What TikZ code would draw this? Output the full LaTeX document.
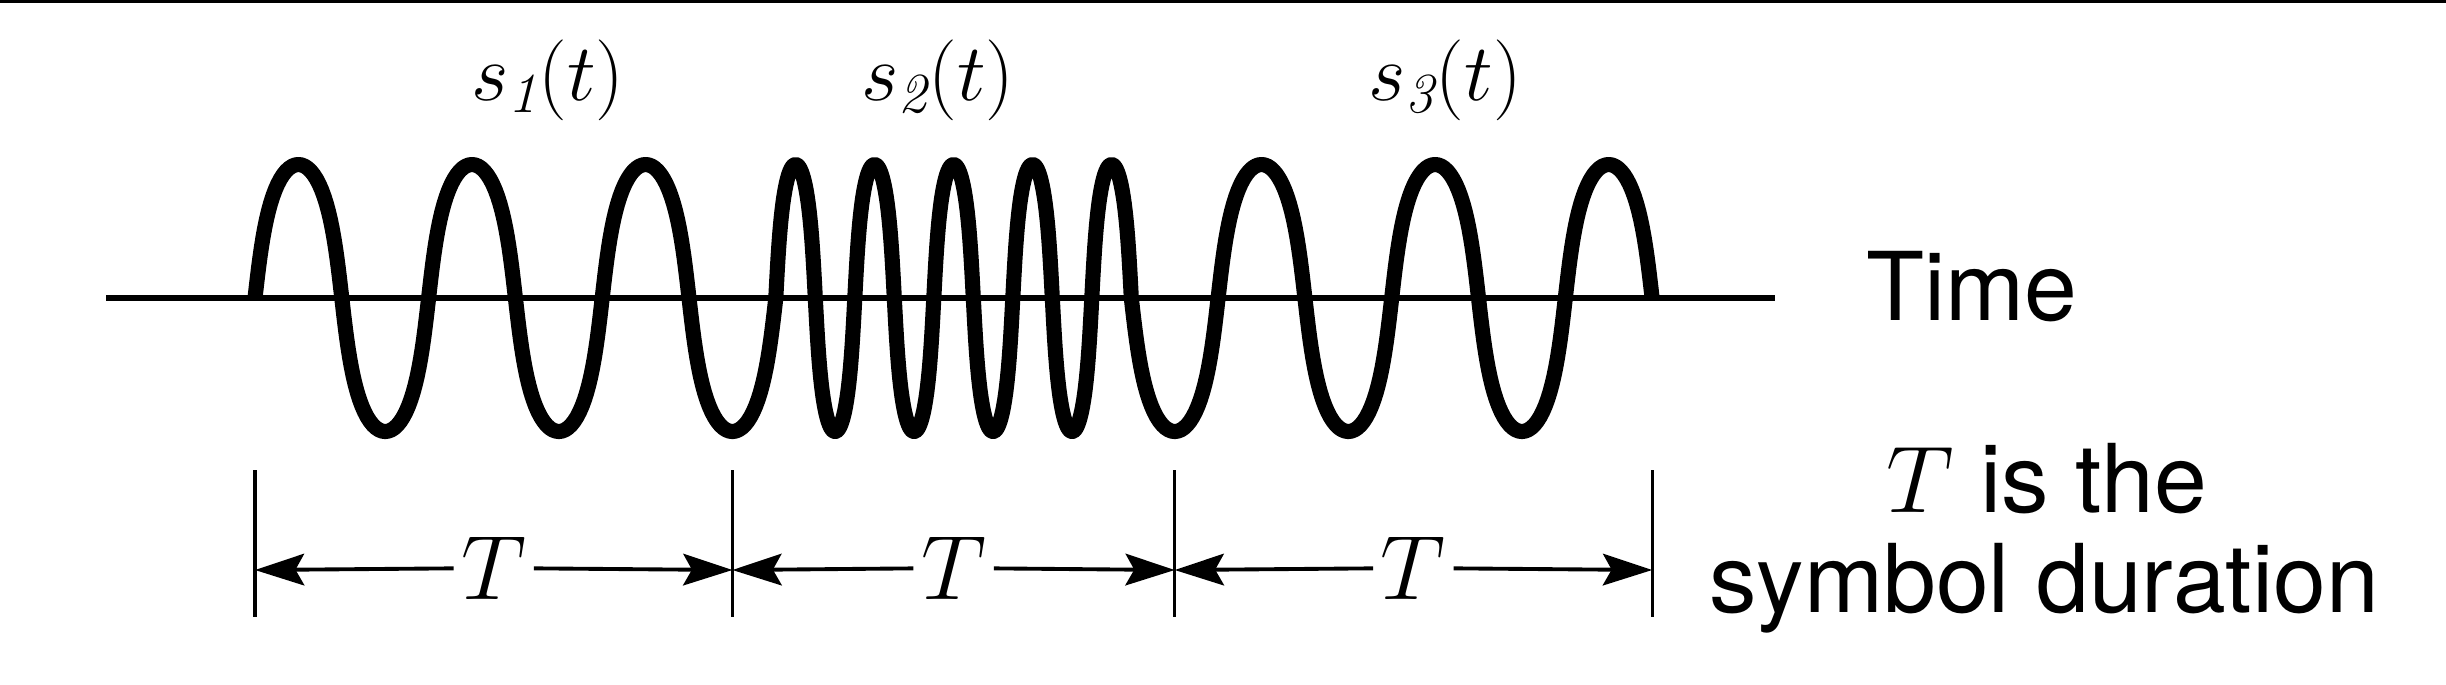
\RequirePackage{fix-cm}
\documentclass[tikz,border=0pt]{standalone}
\usepackage{fontspec}
\newfontfamily\sanslab{TeX Gyre Heros}
\usepackage{tikz}
\usetikzlibrary{arrows.meta}

\begin{document}
\begin{tikzpicture}[x=0.01cm, y=-0.01cm,
  wave/.style={line width=4.3pt, line join=round},
  axisline/.style={line width=1.6pt},
  tickline/.style={line width=0.9pt},
  dimarrow/.style={line width=1.1pt, -{Stealth[length=14pt,width=9pt,inset=2.5pt]}},
  durlab/.style={inner sep=2pt, font=\fontsize{26}{26}\selectfont},
  siglab/.style={inner sep=0pt, font=\fontsize{23}{23}\selectfont},
  txtlab/.style={inner sep=0pt, font=\sanslab\fontsize{27}{27}\selectfont}]
  \fill[white] (0,0) rectangle (2446,684);
  \fill[black] (0,0) rectangle (2446,2.5);
  \draw[axisline] (106,298) -- (1775,298);
  \draw[wave] plot[variable=\t, domain=0:1080, samples=241]
      ({255+86.8*(\t/180-0.0716*sin(2*\t))}, {298-133.5*sin(\t)})
    -- plot[variable=\t, domain=0:1620, samples=361]
      ({775.8+39.5*(\t/180-0.0716*sin(2*\t))}, {298-133.5*sin(\t)})
    -- plot[variable=\t, domain=0:1080, samples=241]
      ({1131.3+86.8*(\t/180-0.0716*sin(2*\t))}, {298+133.5*sin(\t)});
  \foreach \k/\kx in {0/255,1/732.4,2/1174.7,3/1652.1}{
    \draw[tickline] (\kx,470) -- (\kx,617);
    \coordinate (k\k) at (\kx,570);
  }
  \node[durlab] (T1) at (493.7,568) {$T$};
  \node[durlab] (T2) at (953.6,568) {$T$};
  \node[durlab] (T3) at (1413.4,568) {$T$};
  \foreach \i/\a/\b in {1/0/1,2/1/2,3/2/3}{
    \draw[dimarrow] (T\i) -- (k\a);
    \draw[dimarrow] (T\i) -- (k\b);
  }
  \node[siglab] (s1) at (548,80) {$s_{\mathit{1}}(t)$};
  \node[siglab] (s2) at (938,80) {$s_{\mathit{2}}(t)$};
  \node[siglab] (s3) at (1445,80) {$s_{\mathit{3}}(t)$};
  \node[txtlab, anchor=base west] (time) at (1866,320) {Time};
  \node[txtlab, anchor=base] (note) at (2047,512) {$T$ is the};
  \node[txtlab, anchor=base] (dur) at (2044,612) {symbol duration};
\end{tikzpicture}
\end{document}
